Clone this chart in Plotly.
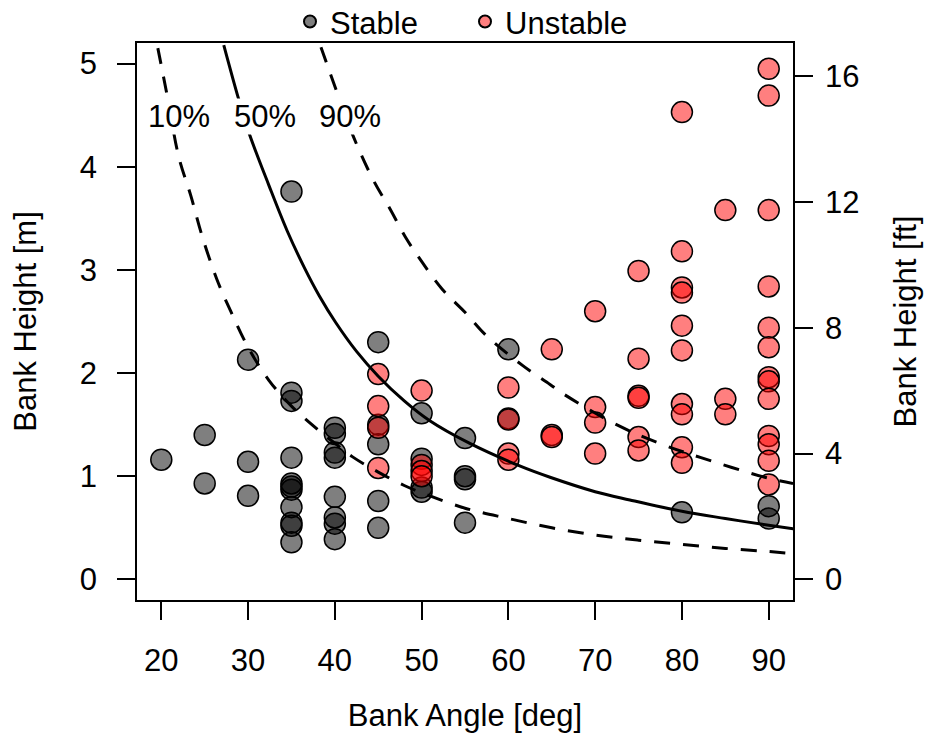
import plotly.graph_objects as go

# ---- data ----
stable_angle = [20, 25, 25, 30, 30, 30,
                35, 35, 35, 35, 35, 35, 35, 35, 35, 35, 35,
                40, 40, 40, 40, 40, 40, 40, 40,
                45, 45, 45, 45, 45,
                50, 50, 50, 50,
                55, 55, 55, 55,
                60, 60,
                80,
                90, 90]
stable_height = [1.16, 1.40, 0.93, 2.13, 1.14, 0.81,
                 3.76, 1.81, 1.73, 1.18, 0.93, 0.90, 0.87, 0.70, 0.55, 0.52, 0.36,
                 1.47, 1.41, 1.23, 1.18, 0.80, 0.60, 0.54, 0.39,
                 2.30, 1.50, 1.31, 0.76, 0.50,
                 1.61, 1.17, 0.89, 0.85,
                 1.37, 1.00, 0.97, 0.55,
                 2.23, 1.56,
                 0.65,
                 0.71, 0.59]

unstable_angle = [45, 45, 45, 45,
                  50, 50, 50, 50,
                  60, 60, 60, 60,
                  65, 65, 65,
                  70, 70, 70, 70,
                  75, 75, 75, 75, 75, 75,
                  80, 80, 80, 80, 80, 80, 80, 80, 80, 80,
                  85, 85, 85,
                  90, 90, 90, 90, 90, 90, 90, 90, 90, 90, 90, 90, 90]
unstable_height = [1.99, 1.68, 1.47, 1.08,
                   1.83, 1.11, 1.05, 1.00,
                   1.86, 1.55, 1.22, 1.16,
                   2.23, 1.40, 1.38,
                   2.60, 1.67, 1.52, 1.22,
                   2.99, 2.14, 1.78, 1.76, 1.38, 1.25,
                   4.53, 3.18, 2.83, 2.78, 2.46, 2.22, 1.70, 1.60, 1.28, 1.13,
                   3.58, 1.75, 1.60,
                   4.95, 4.69, 3.58, 2.84, 2.44, 2.25, 1.96, 1.92, 1.75, 1.39, 1.31, 1.15, 0.92]

# probability curves
p10_angle = [19.6, 20.7, 22.0, 23.4, 24.7, 26.4, 28.0, 30.0, 32.4, 35.0, 38.2, 40.0, 42.0,
             45.0, 48.0, 50.0, 55.0, 60.0, 65.0, 70.0, 75.0, 80.0, 85.0, 90.0, 92.8]
p10_height = [5.15, 4.68, 4.10, 3.72, 3.33, 2.91, 2.60, 2.25, 1.93, 1.68, 1.44, 1.32, 1.19,
              1.04, 0.91, 0.84, 0.69, 0.59, 0.50, 0.43, 0.38, 0.34, 0.30, 0.27, 0.25]

p50_angle = [27.2, 28.9, 30.1, 32.4, 34.5, 36.5, 38.2, 40.1, 42.5, 45.0, 48.0, 50.9,
             55.5, 61.3, 64.8, 70.0, 74.0, 80.0, 85.0, 90.0, 92.9]
p50_height = [5.18, 4.66, 4.33, 3.82, 3.38, 3.02, 2.75, 2.49, 2.21, 1.97, 1.73, 1.54,
              1.32, 1.10, 0.99, 0.85, 0.77, 0.66, 0.59, 0.525, 0.49]

p90_angle = [38.4, 40.3, 42.2, 44.5, 46.3, 48.2, 50.1, 52.4, 55.0, 57.5, 61.7, 64.8,
             66.3, 72.7, 77.7, 82.2, 90.0, 92.8]
p90_height = [5.16, 4.71, 4.28, 3.86, 3.60, 3.31, 3.07, 2.81, 2.59, 2.36, 2.07, 1.89,
              1.80, 1.49, 1.31, 1.18, 0.98, 0.93]

curve_labels = ["10%", "50%", "90%"]
label_angle = [22.0, 32.0, 41.7]
label_height = [4.49, 4.49, 4.49]

x_ticks = [20, 30, 40, 50, 60, 70, 80, 90]
y_ticks_m = [0, 1, 2, 3, 4, 5]
y_ticks_ft = [0, 4, 8, 12, 16]
FT_PER_M = 1 / 0.3048

FONT = "Liberation Sans, Arial, sans-serif"
FS = 31

fig = go.Figure()

fig.add_trace(go.Scatter(
    x=stable_angle, y=stable_height, mode="markers", name="Stable",
    marker=dict(size=21, color="rgba(0,0,0,0.5)", line=dict(color="black", width=1.5)),
    hoverinfo="skip"))
fig.add_trace(go.Scatter(
    x=unstable_angle, y=unstable_height, mode="markers", name="Unstable",
    marker=dict(size=21, color="rgba(255,0,0,0.5)", line=dict(color="black", width=1.5)),
    hoverinfo="skip"))

for xs, ys, dash in [(p10_angle, p10_height, "16px,13px"),
                     (p50_angle, p50_height, "solid"),
                     (p90_angle, p90_height, "16px,13px")]:
    fig.add_trace(go.Scatter(
        x=xs, y=ys, mode="lines", showlegend=False, hoverinfo="skip",
        line=dict(color="black", width=3, dash=dash, shape="spline", smoothing=1.0)))

# invisible trace to activate the right (ft) axis
fig.add_trace(go.Scatter(x=[x_ticks[0]], y=[0], yaxis="y2", mode="markers",
                         marker=dict(opacity=0), showlegend=False, hoverinfo="skip"))

for t, xa, ya in zip(curve_labels, label_angle, label_height):
    fig.add_annotation(x=xa, y=ya, text=t, showarrow=False, bgcolor="white",
                       borderpad=0, font=dict(family=FONT, size=FS, color="black"))

axis_common = dict(showgrid=False, zeroline=False, ticks="outside", ticklen=18,
                   tickwidth=1.5, tickcolor="black", linecolor="black", linewidth=1.5,
                   tickfont=dict(family=FONT, size=FS, color="black"))

fig.update_layout(
    width=925, height=733,
    margin=dict(l=137, r=132, t=43, b=133, autoexpand=False),
    paper_bgcolor="white", plot_bgcolor="white",
    font=dict(family=FONT, size=FS, color="black"),
    xaxis=dict(range=[17.2, 92.8], tickvals=x_ticks, showline=True, mirror=True,
               ticklabelstandoff=14,
               title=dict(text="Bank Angle [deg]", standoff=32,
                          font=dict(family=FONT, size=FS)),
               automargin=False, **axis_common),
    yaxis=dict(range=[-0.2, 5.2], tickvals=y_ticks_m, showline=True, mirror=True,
               ticklabelstandoff=14,
               title=dict(text="Bank Height [m]", standoff=34,
                          font=dict(family=FONT, size=FS)),
               automargin=False, **axis_common),
    yaxis2=dict(range=[-0.2 * FT_PER_M, 5.2 * FT_PER_M], tickvals=y_ticks_ft,
                overlaying="y", side="right", showline=True, ticklabelstandoff=6,
                title=dict(text="Bank Height [ft]", standoff=36,
                           font=dict(family=FONT, size=FS)),
                automargin=False, **axis_common),
    legend=dict(orientation="h", x=0.5, xanchor="center", y=1.038, yanchor="middle",
                font=dict(family=FONT, size=FS), itemsizing="constant",
                entrywidth=130, bgcolor="rgba(0,0,0,0)"),
    showlegend=True,
)

fig.write_html("out.html")
